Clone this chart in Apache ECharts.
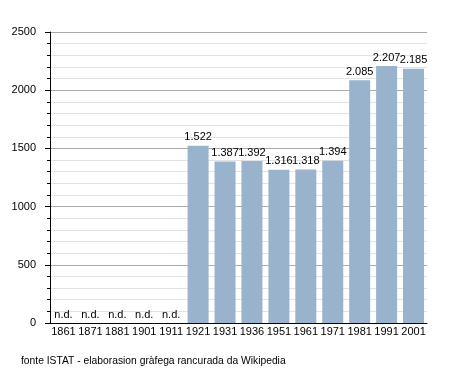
<!DOCTYPE html>
<html><head><meta charset="utf-8">
<script src="https://cdn.jsdelivr.net/npm/echarts@6/dist/echarts.min.js"></script>
<style>html,body{margin:0;padding:0;background:#fff}#c{width:455px;height:373px}</style>
</head><body><div id="c"></div>
<script>
const years = ['1861','1871','1881','1901','1911','1921','1931','1936','1951','1961','1971','1981','1991','2001'];
const population = [null,null,null,null,null,1522,1387,1392,1316,1318,1394,2085,2207,2185];
const yTicks = [0,500,1000,1500,2000,2500];
const footer = 'fonte ISTAT - elaborasion gràfega rancurada da Wikipedia';

const fmt = v => String(v).replace(/\B(?=(\d{3})+(?!\d))/g, '.');
const data = population.map(v => v === null
  ? {value: 0, label: {formatter: 'n.d.'}}
  : {value: v});

const chart = echarts.init(document.getElementById('c'), null, {renderer: 'canvas'});
chart.setOption({
  animation: false,
  textStyle: {fontFamily: 'Liberation Sans, Arial, sans-serif'},
  grid: {left: 50, right: 28, top: 32, bottom: 50},
  graphic: [{type: 'text', left: 21, top: 356,
    style: {text: footer, fontSize: 10.3, fill: '#000', fontFamily: 'Liberation Sans, Arial, sans-serif'}}],
  xAxis: {
    type: 'category', data: years,
    axisLine: {lineStyle: {color: '#000', width: 1}},
    axisTick: {show: false},
    axisLabel: {color: '#000', fontSize: 11, margin: 3, interval: 0}
  },
  yAxis: {
    type: 'value', min: yTicks[0], max: yTicks[yTicks.length-1], interval: 500,
    axisLine: {show: true, lineStyle: {color: '#000', width: 1}},
    axisTick: {show: true, length: 5, lineStyle: {color: '#000'}},
    minorTick: {show: true, splitNumber: 5, length: 3, lineStyle: {color: '#000'}},
    splitLine: {lineStyle: {color: '#aaaaaa', width: 1}},
    minorSplitLine: {show: true, lineStyle: {color: '#e2e2e2', width: 1}},
    axisLabel: {color: '#000', fontSize: 11, margin: 14, formatter: v => String(v)}
  },
  series: [{
    type: 'bar', data: data, barWidth: 21,
    itemStyle: {color: '#99b3cc'},
    label: {show: true, position: 'top', distance: 3, color: '#000', fontSize: 11,
      formatter: p => fmt(p.value)}
  }]
});
</script></body></html>
